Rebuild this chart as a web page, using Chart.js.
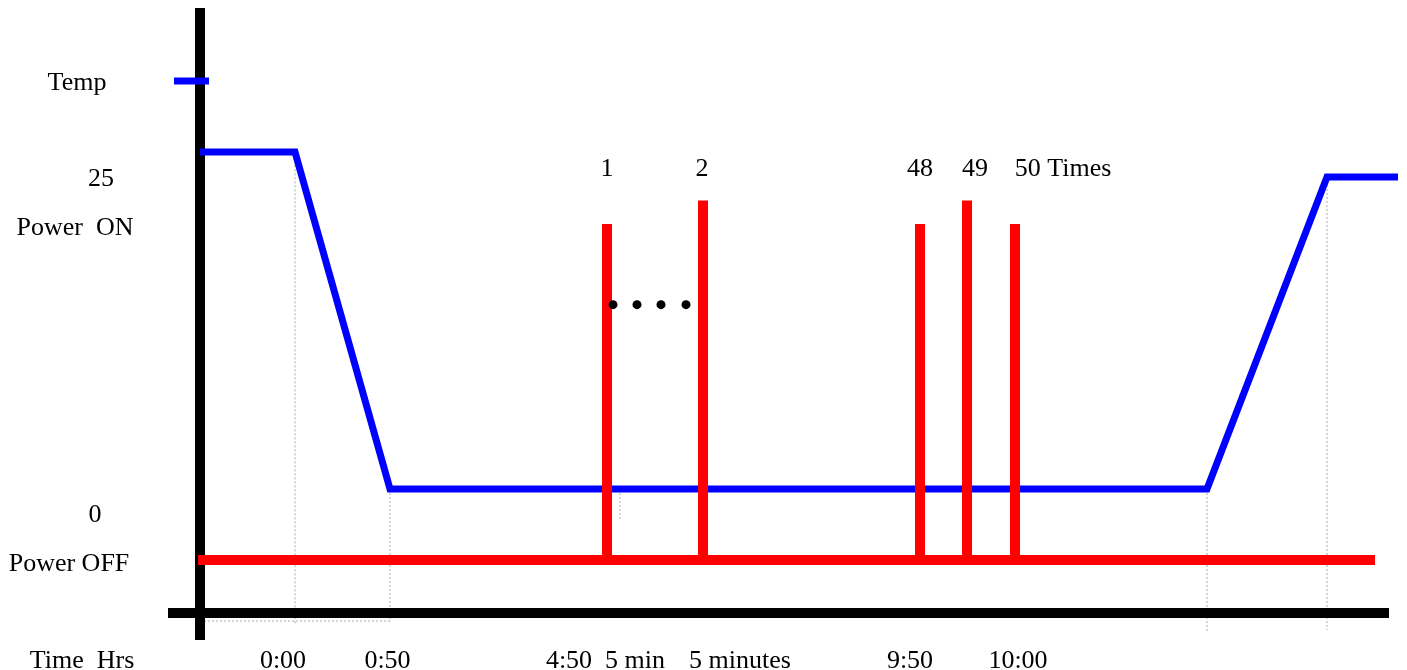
<!DOCTYPE html>
<html>
<head>
<meta charset="utf-8">
<title>Power cycling test</title>
<script src="https://cdn.jsdelivr.net/npm/chart.js@4.4.1/dist/chart.umd.min.js"></script>
<style>
    body { margin: 0; background: #fff; }
    #wrap { width: 1407px; height: 670px; }
</style>
</head>
<body>
<div id="wrap"><canvas id="cycleChart" width="1407" height="670"></canvas></div>
<script>
// Schematic x positions (diagram units), temperature in deg C, power 0 = OFF / 1 = ON
const tempX = [0, 9.5, 19, 100.7, 112.7, 119.8];
const tempY = [27, 27, 0, 0, 25, 25];

const powerBaseX = [-0.2, 117.5];
const pulseX = [40.7, 50.3, 72, 76.7, 81.5];
const pulseLevel = [1, 1.07, 1, 1.07, 1];
const pulseLabels = ['1', '2', '48', '49', '50 Times'];
const pulseLabelX = [40.7, 50.2, 72, 77.5, 86.3];

const dotsX = [41.3, 43.7, 46.1, 48.6];
const dotsLevel = 0.76;

const timeLabels = ['0:00', '0:50', '4:50', '5 min', '5 minutes', '9:50', '10:00'];
const timeLabelX = [8.3, 18.75, 36.9, 43.5, 54, 71, 81.8];

const sideLabels = ['Temp', '25', 'Power  ON', '0', 'Power OFF', 'Time  Hrs'];
const sideLabelX = [-12.3, -9.9, -12.5, -10.5, -13.1, -11.8];
const sideLabelY = [32.55, 24.8, 20.9, -2.1, -6.0, -13.78];

// guide lines: [x, fromTemp, toTemp]
const guideLines = [[9.5, 26.9, -10.9], [19, 0, -10.6], [42, 0, -2.5], [100.7, 0, -11.5], [112.7, 25, -11.3]];
const guideBottom = [[0, 19], -10.58];

const axisV = [0, 38.54, -12.1];
const axisH = [[-3.2, 118.9], -9.94];
const tempTick = [[-2.6, 0.9], 32.7];

const BLUE = '#0000ff';
const RED = '#ff0000';

function seg(points) {
    return points.map(p => ({ x: p[0], y: p[1] }));
}

const datasets = [];

guideLines.forEach(g => {
    datasets.push({
        data: seg([[g[0], g[1]], [g[0], g[2]]]),
        borderColor: '#aaaaaa', borderWidth: 1, borderDash: [2, 2], order: 6
    });
});
datasets.push({
    data: seg([[guideBottom[0][0], guideBottom[1]], [guideBottom[0][1], guideBottom[1]]]),
    borderColor: '#aaaaaa', borderWidth: 1, borderDash: [2, 2], order: 6
});

// the black axes
datasets.push({
    data: seg([[axisV[0], axisV[1]], [axisV[0], axisV[2]]]),
    borderColor: '#000', borderWidth: 10, order: 5
});
datasets.push({
    data: seg([[axisH[0][0], axisH[1]], [axisH[0][1], axisH[1]]]),
    borderColor: '#000', borderWidth: 10, order: 5
});

// temperature profile
datasets.push({
    data: tempX.map((x, i) => ({ x, y: tempY[i] })),
    borderColor: BLUE, borderWidth: 7, order: 4
});
datasets.push({
    data: seg([[tempTick[0][0], tempTick[1]], [tempTick[0][1], tempTick[1]]]),
    borderColor: BLUE, borderWidth: 7, order: 4
});

// power line and ON pulses
datasets.push({
    data: powerBaseX.map(x => ({ x, y: 0 })),
    yAxisID: 'power', borderColor: RED, borderWidth: 10, order: 3
});
pulseX.forEach((x, i) => {
    datasets.push({
        data: [{ x, y: 0 }, { x, y: pulseLevel[i] }],
        yAxisID: 'power', borderColor: RED, borderWidth: 10, order: 3
    });
});

// "...." between pulse 1 and 2
datasets.push({
    data: dotsX.map(x => ({ x, y: dotsLevel })),
    yAxisID: 'power', showLine: false, pointRadius: 4.5,
    pointBackgroundColor: '#000', pointBorderWidth: 0, order: 1
});

datasets.forEach(d => {
    if (d.showLine === undefined) d.showLine = true;
    if (d.pointRadius === undefined) d.pointRadius = 0;
    d.tension = 0;
    d.borderCapStyle = 'butt';
    d.fill = false;
    d.clip = false;
});

const textItems = [];
sideLabels.forEach((t, i) => textItems.push({ text: t, x: sideLabelX[i], y: sideLabelY[i] }));
timeLabels.forEach((t, i) => textItems.push({ text: t, x: timeLabelX[i], y: -13.78 }));
pulseLabels.forEach((t, i) => textItems.push({ text: t, x: pulseLabelX[i], y: 25.65 }));

const textPlugin = {
    id: 'diagramText',
    afterDatasetsDraw(chart) {
        const { ctx, scales: { x, y } } = chart;
        ctx.save();
        ctx.font = '26px "Liberation Serif", "Times New Roman", serif';
        ctx.fillStyle = '#000';
        ctx.textAlign = 'center';
        ctx.textBaseline = 'middle';
        textItems.forEach(t => ctx.fillText(t.text, x.getPixelForValue(t.x), y.getPixelForValue(t.y)));
        ctx.restore();
    }
};

new Chart(document.getElementById('cycleChart'), {
    type: 'scatter',
    data: { datasets },
    options: {
        responsive: false,
        animation: false,
        devicePixelRatio: 1,
        layout: { padding: 0, autoPadding: false },
        plugins: { legend: { display: false }, tooltip: { enabled: false } },
        scales: {
            x: { type: 'linear', display: false, min: -20, max: 120.7 },
            y: { type: 'linear', display: false, min: -14.503, max: 39.183 },
            power: { type: 'linear', display: false, min: -0.3274, max: 1.6667 }
        }
    },
    plugins: [textPlugin]
});
</script>
</body>
</html>
